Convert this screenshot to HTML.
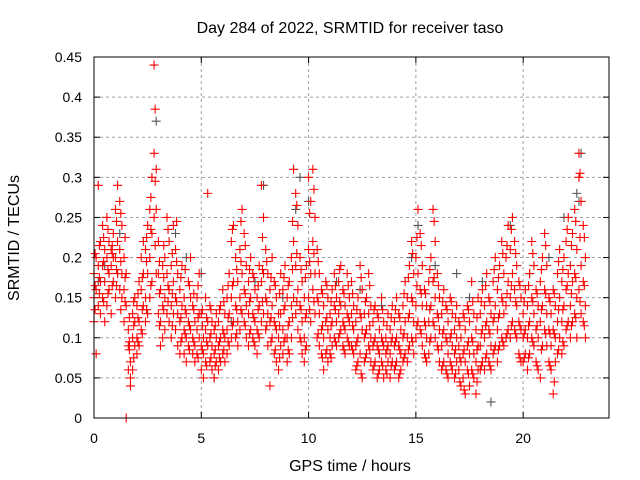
<!DOCTYPE html>
<html><head><meta charset="utf-8"><style>
html,body{margin:0;padding:0;background:#fff;}
svg{display:block;font-family:"Liberation Sans",sans-serif;}
</style></head><body>
<svg id="chart" width="640" height="480" viewBox="0 0 640 480" xmlns="http://www.w3.org/2000/svg">
<rect width="640" height="480" fill="#fff"/>
<text x="350" y="33" text-anchor="middle" font-size="16">Day 284 of 2022, SRMTID for receiver taso</text>
<text x="350" y="471" text-anchor="middle" font-size="16">GPS time / hours</text>
<text transform="translate(19,238) rotate(-90)" text-anchor="middle" font-size="16">SRMTID / TECUs</text>
<g id="grid"></g>
<g id="ticks"></g>
<g id="grey"></g>
<g id="red"></g>
<rect x="94" y="57" width="515" height="361" fill="none" stroke="#000" stroke-width="1"/>
</svg>
<script>
const xTicks=[0,5,10,15,20];
const yTicks=[0,0.05,0.1,0.15,0.2,0.25,0.3,0.35,0.4,0.45];
const yTickLabels=["0","0.05","0.1","0.15","0.2","0.25","0.3","0.35","0.4","0.45"];
const redRows=[
[0.0,.15,.18,.12],[0.1,.20,.16,.08],[0.2,.19,.29,.14],[0.3,.22,.17,.13],[0.4,.24,.19,.15],[0.5,.21,.17,.12],[0.6,.20,.25,.14],[0.7,.18,.22,.16],[0.8,.21,.19,.13],[0.9,.23,.17,.20],
[1.0,.26,.20,.15],[1.1,.29,.22,.18],[1.2,.27,.21,.16],[1.3,.24,.18,.15],[1.4,.20,.16,.12],[1.5,.18,.14,0],[1.6,.11,.09,.06],[1.7,.07,.05,.04],[1.8,.10,.13,.06],[1.9,.09,.12,.15],
[2.0,.14,.10,.08],[2.1,.12,.09,.17],[2.2,.16,.20,.11],[2.3,.18,.14,.22],[2.4,.21,.15,.12],[2.5,.24,.18,.13],[2.6,.26,.20,.15],[2.7,.30,.23,.17],[2.8,.44,.33,.25],[2.9,.31,.26,.18],
[3.0,.22,.18,.13],[3.1,.16,.12,.09],[3.2,.14,.19,.10],[3.3,.20,.15,.11],[3.4,.25,.18,.13],[3.5,.22,.16,.12],[3.6,.19,.14,.10],[3.7,.24,.17,.13],[3.8,.21,.15,.11],[3.9,.18,.13,.09],
[4.0,.16,.12,.08],[4.1,.19,.14,.10],[4.2,.15,.11,.08],[4.3,.13,.10,.07],[4.4,.17,.12,.09],[4.5,.20,.15,.11],[4.6,.14,.10,.08],[4.7,.12,.09,.07],[4.8,.15,.11,.08],[4.9,.18,.13,.10],
[5.0,.13,.09,.06],[5.1,.10,.08,.05],[5.2,.15,.11,.07],[5.3,.28,.12,.09],[5.4,.14,.10,.07],[5.5,.12,.09,.06],[5.6,.11,.08,.05],[5.7,.13,.10,.07],[5.8,.12,.09,.06],[5.9,.14,.10,.07],
[6.0,.16,.11,.08],[6.1,.13,.10,.07],[6.2,.15,.11,.08],[6.3,.18,.13,.09],[6.4,.22,.15,.10],[6.5,.24,.17,.12],[6.6,.20,.14,.10],[6.7,.17,.12,.09],[6.8,.21,.15,.11],[6.9,.26,.18,.13],
[7.0,.23,.16,.12],[7.1,.19,.14,.10],[7.2,.17,.13,.09],[7.3,.20,.15,.11],[7.4,.18,.13,.10],[7.5,.16,.12,.09],[7.6,.15,.11,.08],[7.7,.19,.14,.10],[7.8,.29,.17,.12],[7.9,.25,.18,.13],
[8.0,.21,.15,.11],[8.1,.18,.13,.09],[8.2,.16,.12,.04],[8.3,.20,.14,.10],[8.4,.17,.12,.08],[8.5,.15,.11,.07],[8.6,.13,.10,.06],[8.7,.18,.13,.09],[8.8,.16,.11,.08],[8.9,.19,.14,.10],
[9.0,.15,.10,.07],[9.1,.17,.12,.08],[9.2,.20,.14,.10],[9.3,.31,.22,.15],[9.4,.28,.19,.13],[9.5,.24,.16,.11],[9.6,.20,.14,.10],[9.7,.17,.12,.08],[9.8,.15,.10,.07],[9.9,.19,.13,.09],
[10.0,.30,.21,.15],[10.1,.27,.18,.12],[10.2,.31,.22,.16],[10.3,.25,.18,.13],[10.4,.21,.15,.10],[10.5,.18,.13,.09],[10.6,.16,.11,.08],[10.7,.14,.10,.06],[10.8,.17,.12,.08],[10.9,.15,.11,.07],
[11.0,.13,.10,.08],[11.1,.16,.12,.09],[11.2,.18,.14,.10],[11.3,.15,.12,.09],[11.4,.17,.13,.10],[11.5,.19,.14,.11],[11.6,.16,.12,.09],[11.7,.14,.11,.08],[11.8,.18,.13,.10],[11.9,.15,.12,.09],
[12.0,.17,.13,.09],[12.1,.14,.11,.08],[12.2,.12,.09,.06],[12.3,.15,.10,.07],[12.4,.19,.13,.08],[12.5,.16,.11,.05],[12.6,.13,.10,.07],[12.7,.15,.11,.08],[12.8,.18,.13,.09],[12.9,.14,.10,.07],
[13.0,.12,.09,.06],[13.1,.14,.10,.07],[13.2,.13,.09,.05],[13.3,.11,.08,.06],[13.4,.15,.10,.07],[13.5,.12,.09,.05],[13.6,.10,.08,.06],[13.7,.13,.09,.07],[13.8,.11,.08,.05],[13.9,.14,.10,.07],
[14.0,.12,.09,.06],[14.1,.15,.10,.07],[14.2,.13,.09,.05],[14.3,.11,.08,.06],[14.4,.14,.10,.07],[14.5,.17,.12,.08],[14.6,.15,.10,.07],[14.7,.19,.13,.09],[14.8,.22,.15,.10],[14.9,.18,.12,.08],
[15.0,.20,.14,.10],[15.1,.26,.18,.12],[15.2,.23,.16,.11],[15.3,.19,.14,.09],[15.4,.16,.12,.08],[15.5,.14,.10,.07],[15.6,.17,.12,.08],[15.7,.20,.14,.10],[15.8,.26,.17,.12],[15.9,.22,.15,.10],
[16.0,.18,.13,.09],[16.1,.15,.11,.07],[16.2,.13,.09,.06],[16.3,.16,.11,.07],[16.4,.14,.10,.06],[16.5,.12,.08,.05],[16.6,.15,.10,.07],[16.7,.13,.09,.06],[16.8,.11,.08,.05],[16.9,.14,.10,.07],
[17.0,.12,.09,.06],[17.1,.10,.07,.04],[17.2,.13,.08,.05],[17.3,.11,.07,.03],[17.4,.14,.09,.06],[17.5,.12,.08,.04],[17.6,.17,.10,.06],[17.7,.13,.08,.05],[17.8,.11,.07,.03],[17.9,.15,.09,.06],
[18.0,.13,.09,.06],[18.1,.16,.11,.07],[18.2,.14,.10,.06],[18.3,.18,.12,.08],[18.4,.15,.11,.07],[18.5,.13,.09,.06],[18.6,.17,.12,.08],[18.7,.20,.14,.09],[18.8,.16,.11,.07],[18.9,.19,.13,.09],
[19.0,.22,.15,.10],[19.1,.18,.13,.09],[19.2,.20,.14,.10],[19.3,.24,.17,.11],[19.4,.21,.15,.10],[19.5,.25,.18,.12],[19.6,.22,.16,.11],[19.7,.19,.14,.10],[19.8,.17,.12,.08],[19.9,.15,.11,.07],
[20.0,.13,.10,.07],[20.1,.16,.11,.08],[20.2,.14,.10,.06],[20.3,.18,.12,.08],[20.4,.22,.15,.10],[20.5,.19,.13,.09],[20.6,.16,.11,.07],[20.7,.14,.10,.06],[20.8,.17,.12,.05],[20.9,.20,.14,.09],
[21.0,.23,.16,.11],[21.1,.19,.13,.09],[21.2,.15,.11,.07],[21.3,.13,.09,.06],[21.4,.16,.11,.03],[21.5,.14,.10,.07],[21.6,.18,.12,.08],[21.7,.21,.15,.10],[21.8,.17,.12,.08],[21.9,.20,.14,.09],
[22.0,.22,.16,.11],[22.1,.25,.18,.12],[22.2,.19,.14,.10],[22.3,.23,.17,.12],[22.4,.26,.18,.13],[22.5,.21,.15,.10],[22.6,.33,.30,.16],[22.7,.27,.19,.13],[22.8,.24,.17,.12],[22.9,.20,.14,.10]
];
const redRows2=[
[0.05,.165,.205,.135],[0.25,.215,.155,.175],[0.45,.195,.225,.145],[0.65,.235,.185,.155],[0.85,.205,.165,.215],
[1.05,.245,.185,.165],[1.25,.255,.195,.135],[1.45,.175,.145,.225],[1.65,.085,.125,.095],[1.85,.115,.075,.145],
[2.05,.125,.095,.155],[2.25,.175,.135,.105],[2.45,.195,.225,.135],[2.65,.235,.165,.275],[2.85,.385,.295,.215],
[3.05,.195,.155,.115],[3.25,.175,.135,.215],[3.45,.235,.165,.145],[3.65,.205,.155,.115],[3.85,.195,.145,.245],
[4.05,.175,.125,.095],[4.25,.135,.105,.185],[4.45,.165,.115,.085],[4.65,.135,.095,.155],[4.85,.165,.125,.075],
[5.05,.115,.085,.135],[5.25,.125,.095,.065],[5.45,.135,.105,.075],[5.65,.115,.085,.065],[5.85,.135,.095,.075],
[6.05,.145,.105,.085],[6.25,.165,.125,.095],[6.45,.235,.165,.115],[6.65,.185,.135,.105],[6.85,.245,.195,.135],
[7.05,.215,.155,.115],[7.25,.185,.145,.105],[7.45,.175,.125,.095],[7.65,.165,.135,.105],[7.85,.225,.185,.145],
[8.05,.195,.145,.115],[8.25,.175,.125,.095],[8.45,.165,.115,.085],[8.65,.155,.115,.075],[8.85,.175,.135,.095],
[9.05,.165,.115,.085],[9.25,.245,.185,.125],[9.45,.265,.205,.145],[9.65,.185,.135,.095],[9.85,.175,.125,.085],
[10.05,.255,.195,.135],[10.25,.285,.205,.145],[10.45,.195,.145,.105],[10.65,.155,.115,.075],[10.85,.165,.125,.085],
[11.05,.145,.115,.075],[11.25,.165,.135,.095],[11.45,.185,.145,.105],[11.65,.155,.115,.085],[11.85,.165,.125,.095],
[12.05,.155,.115,.085],[12.25,.135,.095,.065],[12.45,.175,.125,.055],[12.65,.145,.105,.075],[12.85,.165,.115,.085],
[13.05,.135,.095,.065],[13.25,.125,.085,.055],[13.45,.135,.095,.065],[13.65,.115,.085,.055],[13.85,.125,.095,.065],
[14.05,.135,.095,.065],[14.25,.125,.085,.055],[14.45,.155,.105,.075],[14.65,.175,.125,.085],[14.85,.205,.145,.095],
[15.05,.225,.165,.115],[15.25,.215,.155,.105],[15.45,.155,.115,.075],[15.65,.185,.135,.095],[15.85,.245,.175,.115],
[16.05,.165,.125,.085],[16.25,.145,.105,.065],[16.45,.135,.095,.055],[16.65,.145,.105,.065],[16.85,.125,.085,.055],
[17.05,.115,.075,.045],[17.25,.125,.085,.035],[17.45,.135,.095,.055],[17.65,.145,.095,.055],[17.85,.125,.085,.045],
[18.05,.145,.105,.065],[18.25,.165,.115,.075],[18.45,.145,.105,.065],[18.65,.185,.125,.085],[18.85,.175,.125,.085],
[19.05,.205,.145,.095],[19.25,.215,.155,.105],[19.45,.235,.165,.115],[19.65,.205,.145,.105],[19.85,.165,.115,.075],
[20.05,.145,.105,.075],[20.25,.165,.115,.075],[20.45,.205,.145,.095],[20.65,.155,.115,.065],[20.85,.185,.135,.085],
[21.05,.215,.155,.105],[21.25,.145,.105,.065],[21.45,.155,.105,.045],[21.65,.195,.135,.085],[21.85,.185,.135,.095],
[22.05,.235,.165,.115],[22.25,.215,.155,.115],[22.45,.245,.175,.125],[22.65,.305,.225,.145],[22.85,.225,.165,.115]
];
const greyTimes=[0.2,0.5,1.2,2.9,3.8,4.3,5.0,5.6,6.4,7.5,7.9,8.8,9.4,9.6,10.0,11.3,12.4,13.4,14.8,15.1,15.9,16.9,17.5,18.1,18.5,19.4,20.3,21.2,21.9,22.5,22.7,22.6];
const greyValues=[0.17,0.19,0.23,0.37,0.23,0.20,0.18,0.05,0.12,0.17,0.29,0.15,0.26,0.30,0.27,0.17,0.16,0.14,0.20,0.24,0.19,0.18,0.15,0.17,0.02,0.24,0.18,0.20,0.25,0.28,0.33,0.27];

const NS="http://www.w3.org/2000/svg";
const L=94,R=609,T=57,B=418;
const xs=t=>L+t/24*(R-L);
const ys=v=>B-v/0.45*(B-T);
function mk(tag,attrs,parent){const e=document.createElementNS(NS,tag);for(const k in attrs)e.setAttribute(k,attrs[k]);parent.appendChild(e);return e;}
const grid=document.getElementById('grid'),ticks=document.getElementById('ticks');
yTicks.forEach((v,i)=>{
  const y=ys(v);
  if(i>0&&i<yTicks.length-1){const g=mk('line',{x1:L,x2:R,y1:y,y2:y,stroke:'#a0a0a0','stroke-dasharray':'3,3'},grid);
  
  }
  const tk=mk('line',{x1:L,x2:L+6,y1:y,y2:y,stroke:'#000'},ticks);
  
  
  mk('line',{x1:R-6,x2:R,y1:y,y2:y,stroke:'#000'},ticks);
  const t=mk('text',{x:82,y:y+5,'text-anchor':'end','font-size':14},ticks);t.textContent=yTickLabels[i];
  
  
});
xTicks.forEach(h=>{
  const x=xs(h);
  if(h>0){const g=mk('line',{x1:x,x2:x,y1:T,y2:B,stroke:'#a0a0a0','stroke-dasharray':'3,3'},grid);
  
  }
  const tk=mk('line',{x1:x,x2:x,y1:B,y2:B-6,stroke:'#000'},ticks);
  
  
  mk('line',{x1:x,x2:x,y1:T,y2:T+6,stroke:'#000'},ticks);
  const t=mk('text',{x:x,y:443,'text-anchor':'middle','font-size':14},ticks);t.textContent=String(h);
  
  
});
function plus(parent,t,v,color,name){
  const x=xs(t),y=ys(v);
  const p=mk('path',{d:`M${x-4.5} ${y}H${x+4.5}M${x} ${y-4.5}V${y+4.5}`,stroke:color,'stroke-width':1.1,fill:'none'},parent);
  
  
}
const greyG=document.getElementById('grey'),redG=document.getElementById('red');
greyTimes.forEach((t,i)=>plus(greyG,t,greyValues[i],'#555','grey-point'));
redRows.forEach(r=>{for(let j=1;j<r.length;j++)plus(redG,r[0],r[j],'#ff0000','red-point');});
redRows2.forEach(r=>{for(let j=1;j<r.length;j++)plus(redG,r[0],r[j],'#ff0000','red-point');});
</script>
</body></html>
